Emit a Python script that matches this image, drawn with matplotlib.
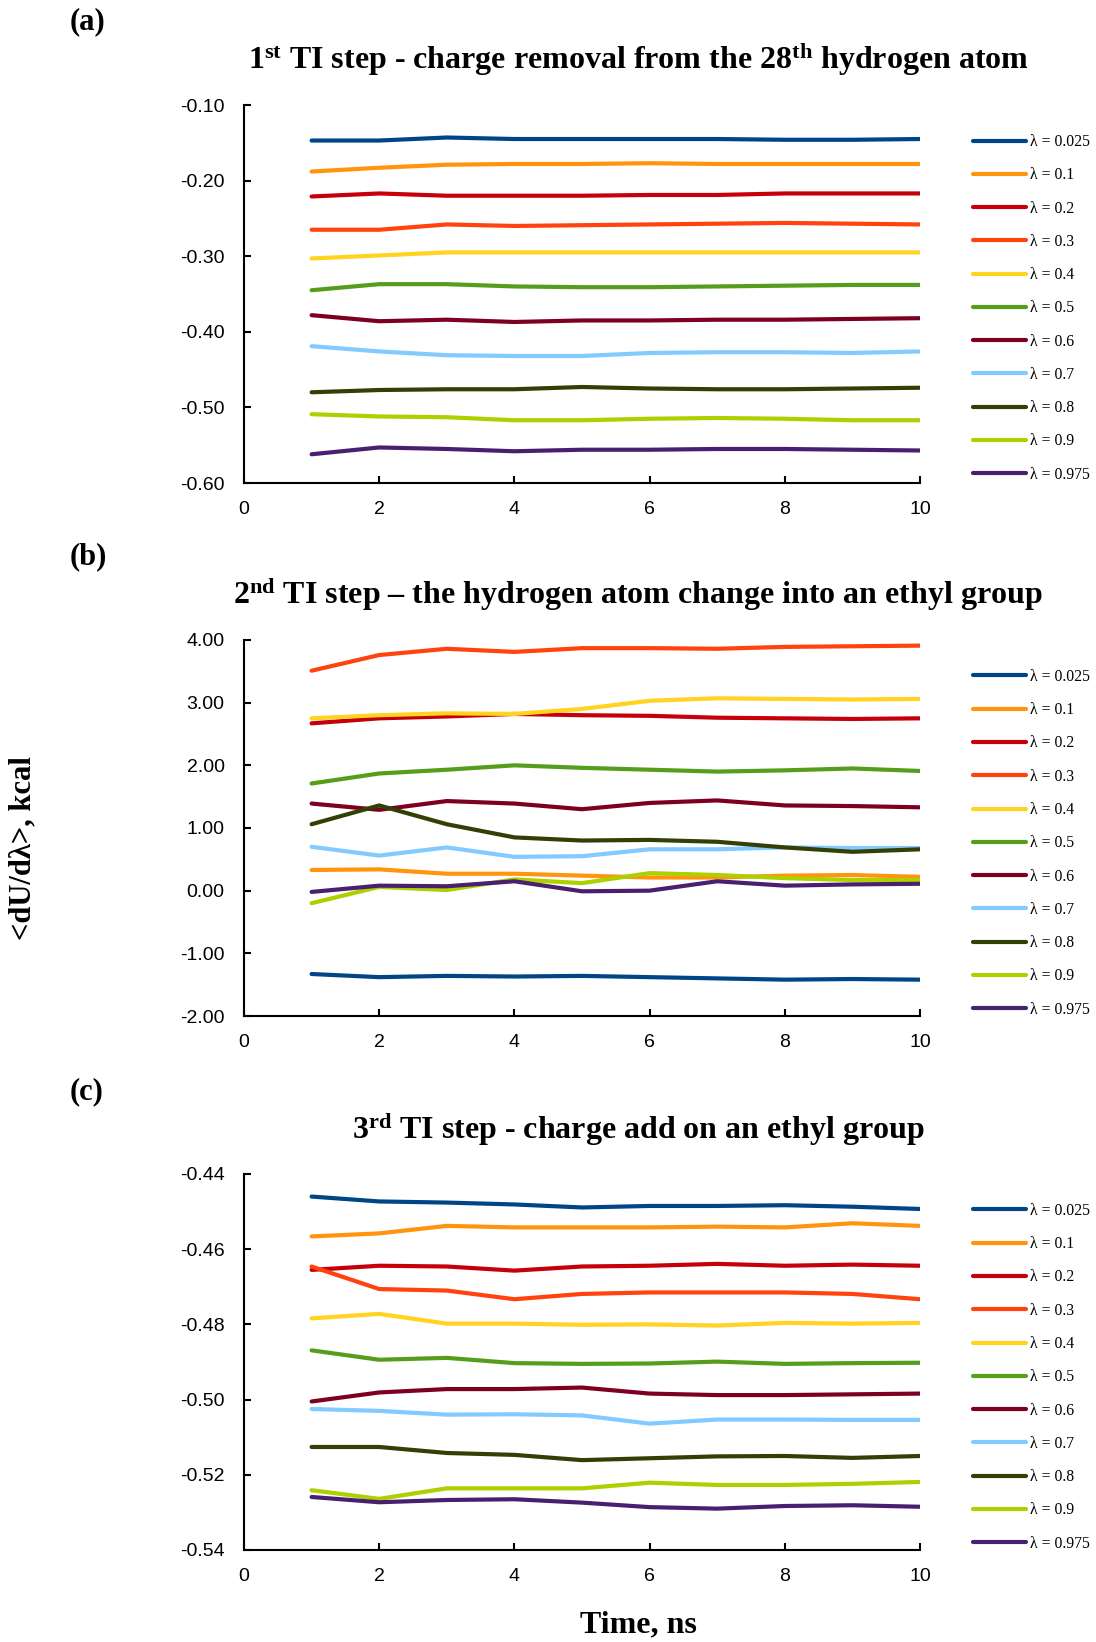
import matplotlib
matplotlib.use("Agg")
import matplotlib.pyplot as plt
import numpy as np

plt.rcParams['font.family'] = ['Liberation Sans', 'DejaVu Sans']
plt.rcParams['mathtext.fontset'] = 'custom'
plt.rcParams['mathtext.rm'] = 'Liberation Serif:bold'
plt.rcParams['mathtext.bf'] = 'Liberation Serif:bold'
plt.rcParams['mathtext.it'] = 'Liberation Serif:bold'

time_ns = [1, 2, 3, 4, 5, 6, 7, 8, 9, 10]
lambdas = ["0.025", "0.1", "0.2", "0.3", "0.4", "0.5", "0.6", "0.7", "0.8", "0.9", "0.975"]
colors = ["#004586", "#ff950e", "#c5000b", "#ff420e", "#ffd320", "#579d1c",
          "#7e0021", "#83caff", "#314004", "#aecf00", "#4b1f6f"]

# Panel (a): 1st TI step
a_0025 = [-0.147, -0.147, -0.143, -0.145, -0.145, -0.145, -0.145, -0.146, -0.146, -0.145]
a_01 = [-0.188, -0.183, -0.179, -0.178, -0.178, -0.177, -0.178, -0.178, -0.178, -0.178]
a_02 = [-0.221, -0.217, -0.220, -0.220, -0.220, -0.219, -0.219, -0.217, -0.217, -0.217]
a_03 = [-0.265, -0.265, -0.258, -0.260, -0.259, -0.258, -0.257, -0.256, -0.257, -0.258]
a_04 = [-0.303, -0.299, -0.295, -0.295, -0.295, -0.295, -0.295, -0.295, -0.295, -0.295]
a_05 = [-0.345, -0.337, -0.337, -0.340, -0.341, -0.341, -0.340, -0.339, -0.338, -0.338]
a_06 = [-0.378, -0.386, -0.384, -0.387, -0.385, -0.385, -0.384, -0.384, -0.383, -0.382]
a_07 = [-0.419, -0.426, -0.431, -0.432, -0.432, -0.428, -0.427, -0.427, -0.428, -0.426]
a_08 = [-0.480, -0.477, -0.476, -0.476, -0.473, -0.475, -0.476, -0.476, -0.475, -0.474]
a_09 = [-0.509, -0.512, -0.513, -0.517, -0.517, -0.515, -0.514, -0.515, -0.517, -0.517]
a_0975 = [-0.562, -0.553, -0.555, -0.558, -0.556, -0.556, -0.555, -0.555, -0.556, -0.557]

# Panel (b): 2nd TI step
b_0025 = [-1.33, -1.38, -1.36, -1.37, -1.36, -1.38, -1.40, -1.42, -1.41, -1.42]
b_01 = [0.33, 0.34, 0.27, 0.27, 0.24, 0.21, 0.21, 0.24, 0.25, 0.22]
b_02 = [2.67, 2.75, 2.78, 2.82, 2.80, 2.79, 2.76, 2.75, 2.74, 2.75]
b_03 = [3.51, 3.76, 3.86, 3.81, 3.87, 3.87, 3.86, 3.89, 3.90, 3.91]
b_04 = [2.75, 2.80, 2.83, 2.82, 2.90, 3.03, 3.07, 3.06, 3.05, 3.06]
b_05 = [1.71, 1.87, 1.93, 2.00, 1.96, 1.93, 1.90, 1.92, 1.95, 1.91]
b_06 = [1.39, 1.29, 1.43, 1.39, 1.30, 1.40, 1.44, 1.36, 1.35, 1.33]
b_07 = [0.70, 0.56, 0.69, 0.54, 0.55, 0.66, 0.66, 0.69, 0.68, 0.68]
b_08 = [1.06, 1.36, 1.06, 0.85, 0.80, 0.81, 0.78, 0.69, 0.62, 0.66]
b_09 = [-0.20, 0.06, 0.01, 0.18, 0.12, 0.28, 0.25, 0.20, 0.17, 0.17]
b_0975 = [-0.02, 0.08, 0.07, 0.15, -0.01, 0.00, 0.15, 0.08, 0.10, 0.11]

# Panel (c): 3rd TI step
c_0025 = [-0.4460, -0.4473, -0.4476, -0.4481, -0.4489, -0.4485, -0.4485, -0.4483, -0.4487, -0.4493]
c_01 = [-0.4566, -0.4558, -0.4538, -0.4542, -0.4542, -0.4542, -0.4540, -0.4542, -0.4531, -0.4538]
c_02 = [-0.4655, -0.4644, -0.4646, -0.4657, -0.4646, -0.4644, -0.4639, -0.4644, -0.4641, -0.4644]
c_03 = [-0.4646, -0.4706, -0.4710, -0.4733, -0.4719, -0.4715, -0.4715, -0.4715, -0.4719, -0.4733]
c_04 = [-0.4784, -0.4772, -0.4798, -0.4798, -0.4801, -0.4800, -0.4803, -0.4796, -0.4798, -0.4796]
c_05 = [-0.4869, -0.4894, -0.4889, -0.4903, -0.4905, -0.4904, -0.4899, -0.4905, -0.4903, -0.4902]
c_06 = [-0.5005, -0.4981, -0.4972, -0.4972, -0.4968, -0.4984, -0.4988, -0.4988, -0.4986, -0.4984]
c_07 = [-0.5025, -0.5030, -0.5040, -0.5039, -0.5042, -0.5064, -0.5053, -0.5053, -0.5054, -0.5054]
c_08 = [-0.5126, -0.5126, -0.5142, -0.5147, -0.5161, -0.5156, -0.5151, -0.5150, -0.5155, -0.5150]
c_09 = [-0.5241, -0.5264, -0.5236, -0.5236, -0.5236, -0.5221, -0.5227, -0.5227, -0.5224, -0.5219]
c_0975 = [-0.5259, -0.5273, -0.5267, -0.5265, -0.5274, -0.5286, -0.5290, -0.5283, -0.5281, -0.5285]

panels = [
    dict(tag="(a)", title=r"1$^{\mathrm{st}}$ TI step - charge removal from the 28$^{\mathrm{th}}$ hydrogen atom",
         series=[a_0025, a_01, a_02, a_03, a_04, a_05, a_06, a_07, a_08, a_09, a_0975],
         ylim=(-0.60, -0.10), yticks=np.arange(-0.60, -0.099, 0.10)),
    dict(tag="(b)", title=r"2$^{\mathrm{nd}}$ TI step – the hydrogen atom change into an ethyl group",
         series=[b_0025, b_01, b_02, b_03, b_04, b_05, b_06, b_07, b_08, b_09, b_0975],
         ylim=(-2.0, 4.0), yticks=np.arange(-2.0, 4.01, 1.0)),
    dict(tag="(c)", title=r"3$^{\mathrm{rd}}$ TI step - charge add on an ethyl group",
         series=[c_0025, c_01, c_02, c_03, c_04, c_05, c_06, c_07, c_08, c_09, c_0975],
         ylim=(-0.54, -0.44), yticks=np.arange(-0.54, -0.4399, 0.02)),
]

W, H = 1096, 1642
fig = plt.figure(figsize=(W / 100, H / 100), dpi=100)

# axes rects in pixel coords (left, top, right, bottom)
rects = [(244, 105, 920, 483), (244, 640, 920, 1016), (244, 1174, 920, 1550)]
tag_y = [22, 557, 1092]
title_y = [60, 595, 1130]
title_x = [638, 638, 638]

for p, (l, t, r, b), ty, tiy, tix in zip(panels, rects, tag_y, title_y, title_x):
    ax = fig.add_axes([l / W, 1 - b / H, (r - l) / W, (b - t) / H])
    for vals, lam, col in zip(p["series"], lambdas, colors):
        ax.plot(time_ns, vals, color=col, lw=3.0, solid_capstyle='round',
                label="λ = " + lam)
    ax.set_xlim(0, 10)
    ax.set_ylim(*p["ylim"])
    ax.set_xticks([0, 2, 4, 6, 8, 10])
    ax.set_yticks(p["yticks"])
    ax.yaxis.set_major_formatter(matplotlib.ticker.FormatStrFormatter('%.2f'))
    for s in ["top", "right"]:
        ax.spines[s].set_visible(False)
    for s in ["left", "bottom"]:
        ax.spines[s].set_linewidth(1.5)
    ax.tick_params(axis='both', direction='in', length=5, width=1.5, labelsize=14)
    ax.tick_params(axis='y', pad=14)
    ax.tick_params(axis='x', pad=13)
    ax.legend(loc='upper left', bbox_to_anchor=(1.078, 0.923), frameon=False,
              borderaxespad=0, borderpad=0, handlelength=3.4, handletextpad=0.25,
              labelspacing=1.1, prop={'family': 'Liberation Serif', 'size': 11.3})
    fig.text(70 / W, 1 - ty / H, p["tag"], family='Liberation Serif', fontweight='bold',
             fontsize=22, ha='left', va='center')
    fig.text(tix / W, 1 - tiy / H, p["title"], family='Liberation Serif', fontweight='bold',
             fontsize=23, ha='center', va='center')

fig.text(23 / W, 1 - 848 / H, "<dU/dλ>, kcal", family='Liberation Serif', fontweight='bold',
         fontsize=22, rotation=90, ha='center', va='center')
fig.text(638 / W, 1 - 1625 / H, "Time, ns", family='Liberation Serif', fontweight='bold',
         fontsize=23, ha='center', va='center')

fig.savefig("out.png", dpi=100)
